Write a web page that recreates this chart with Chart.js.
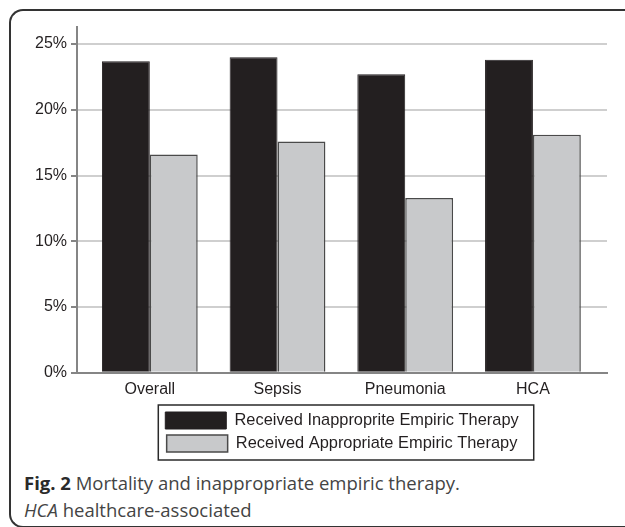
<!DOCTYPE html>
<html>
<head>
<meta charset="utf-8">
<script src="https://cdn.jsdelivr.net/npm/chart.js@4.4.1/dist/chart.umd.min.js"></script>
<style>
    html, body { margin: 0; padding: 0; background: #fff; }
    body { width: 625px; height: 527px; position: relative; overflow: hidden; }
    #frame {
        position: absolute; left: 9px; top: 9px; width: 640px; height: 515px;
        border: 2px solid #333; border-right: none; border-radius: 14px 0 0 14px;
    }
    #wrap { position: absolute; left: 0; top: 0; width: 625px; height: 468px; }
    #caption {
        position: absolute; left: 24px; top: 469px;
        font-family: "Open Sans", "Noto Sans", sans-serif; font-size: 18.5px;
        line-height: 27px; color: #444; white-space: nowrap;
    }
    #caption b { color: #2a2a2a; }
</style>
</head>
<body>
<div id="frame"></div>
<div id="wrap"><canvas id="mortalityChart"></canvas></div>
<div id="caption"><b>Fig. 2</b> Mortality and inappropriate empiric therapy.<br><i>HCA</i> healthcare-associated</div>
<script>
var categories = ['Overall', 'Sepsis', 'Pneumonia', 'HCA'];
var inappropriate = [23.7, 24.0, 22.7, 23.8];
var appropriate = [16.6, 17.6, 13.3, 18.1];
var yTicks = [0, 5, 10, 15, 20, 25];

// outline around the legend rows, like the boxed key in the figure
var legendBox = {
    id: 'legendBox',
    afterDraw: function (chart) {
        var boxes = chart.legend.legendHitBoxes;
        if (!boxes || !boxes.length) return;
        var l = Math.min.apply(null, boxes.map(b => b.left)) - 7;
        var r = Math.max.apply(null, boxes.map(b => b.left + b.width)) + 15;
        var t = Math.min.apply(null, boxes.map(b => b.top)) - 7;
        var btm = Math.max.apply(null, boxes.map(b => b.top)) + 25;
        var ctx = chart.ctx;
        ctx.save();
        ctx.strokeStyle = '#2a2a2a';
        ctx.lineWidth = 1.5;
        ctx.strokeRect(l, t, r - l, btm - t);
        ctx.restore();
    }
};

document.addEventListener('DOMContentLoaded', function () {
    var ctx = document.getElementById('mortalityChart').getContext('2d');
    var font = { family: '"Liberation Sans", Arial, sans-serif', size: 16 };
    new Chart(ctx, {
        type: 'bar',
        data: {
            datasets: [{
                label: 'Received Inapproprite Empiric Therapy',
                data: categories.map((c, i) => ({ x: i, y: inappropriate[i] })),
                backgroundColor: '#231f20',
                borderColor: '#231f20',
                borderWidth: 1
            }, {
                label: 'Received Appropriate Empiric Therapy',
                data: categories.map((c, i) => ({ x: i, y: appropriate[i] })),
                backgroundColor: '#c8c9cb',
                borderColor: '#4a4a4a',
                borderWidth: 1.5
            }]
        },
        options: {
            responsive: true,
            maintainAspectRatio: false,
            animation: false,
            categoryPercentage: 0.75,
            barPercentage: 1,
            layout: { padding: { left: 31, right: 18, top: 27, bottom: 6 } },
            plugins: {
                tooltip: { enabled: false },
                legend: {
                    position: 'bottom',
                    fullSize: false,
                    labels: {
                        boxWidth: 61,
                        boxHeight: 17,
                        padding: 6,
                        color: '#231f20',
                        font: { family: font.family, size: 16.4 }
                    }
                }
            },
            scales: {
                x: {
                    type: 'linear',
                    min: -0.57,
                    max: 3.58,
                    offset: false,
                    afterBuildTicks: function (axis) {
                        axis.ticks = categories.map((c, i) => ({ value: i }));
                    },
                    ticks: {
                        color: '#231f20',
                        font: font,
                        padding: 7,
                        callback: function (v) { return categories[v]; }
                    },
                    grid: { display: false, drawTicks: false },
                    border: { display: true, color: '#858585', width: 2 }
                },
                y: {
                    min: 0,
                    max: 26.3,
                    afterBuildTicks: function (axis) {
                        axis.ticks = yTicks.map(v => ({ value: v }));
                    },
                    ticks: {
                        color: '#231f20',
                        font: font,
                        padding: 4,
                        callback: function (v) { return v + '%'; }
                    },
                    grid: {
                        color: function (c) { return c.tick && c.tick.value === 0 ? '#858585' : '#cfcfcf'; },
                        lineWidth: 2,
                        tickLength: 6,
                        tickColor: '#858585'
                    },
                    border: { display: true, color: '#858585', width: 2 }
                }
            }
        },
        plugins: [legendBox]
    });
});
</script>
</body>
</html>
